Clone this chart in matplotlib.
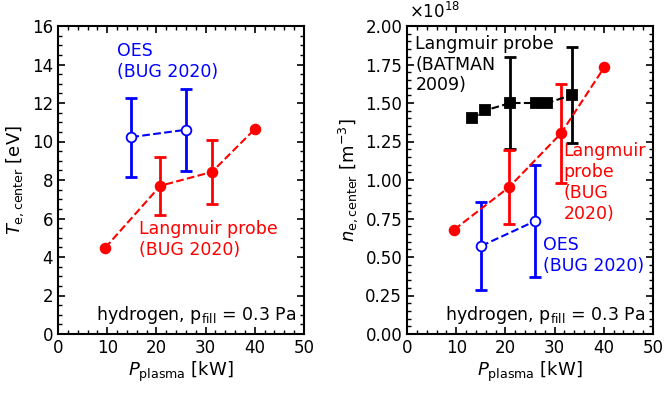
import numpy as np
import matplotlib
matplotlib.use("Agg")
import matplotlib.pyplot as plt
from matplotlib.ticker import MultipleLocator, FormatStrFormatter

# electron temperature, hydrogen 0.3 Pa
lp_p = [9.6, 20.8, 31.3, 40.1]
lp_te = [4.48, 7.70, 8.42, 10.67]
lp_te_err = [0, 1.52, 1.66, 0]
oes_p = [14.9, 26.0]
oes_te = [10.23, 10.61]
oes_te_err = [2.05, 2.13]

# electron density (1e18 m^-3)
lp_ne = [0.678, 0.955, 1.303, 1.732]
lp_ne_err = [0, 0.24, 0.32, 0]
oes_p2 = [15.1, 26.1]
oes_ne = [0.572, 0.734]
oes_ne_err = [0.285, 0.366]
bat_p = [13.2, 15.9, 21.0, 26.2, 28.5, 33.6]
bat_ne = [1.40, 1.452, 1.50, 1.50, 1.50, 1.553]
bat_ne_err = [0, 0, 0.297, 0, 0, 0.311]

plt.rcParams['font.size'] = 12
plt.rcParams['font.family'] = ['DejaVu Sans']

fig = plt.figure(figsize=(6.64, 3.96), dpi=100)
ax1 = fig.add_axes([58/664, 1 - 334/396, 246/664, 308/396])
ax2 = fig.add_axes([407/664, 1 - 334/396, 246/664, 308/396])

LBL = 12.5


def draw(ax, x, y, e, color, marker, mfc, ms):
    ax.plot(x, y, ls='--', color=color, lw=1.5, marker=marker, ms=ms,
            mfc=mfc, mec=color, mew=1.3, zorder=3)
    e = np.array(e)
    m = e > 0
    # only points with a given error get a bar
    ax.errorbar(np.array(x)[m], np.array(y)[m], yerr=e[m], fmt='none',
                ecolor=color, elinewidth=2, capsize=4, capthick=2, zorder=2)


draw(ax1, lp_p, lp_te, lp_te_err, 'red', 'o', 'red', 7)
draw(ax1, oes_p, oes_te, oes_te_err, 'blue', 'o', 'white', 7)
ax1.set_xlim(0, 50)
ax1.set_ylim(0, 16)
ax1.yaxis.set_major_locator(MultipleLocator(2))
ax1.yaxis.set_minor_locator(MultipleLocator(0.5))
ax1.set_ylabel(r'$T_\mathrm{e,center}$ [eV]', fontsize=13)
ax1.text(12.0, 14.15, 'OES\n(BUG 2020)', color='blue', fontsize=LBL,
         va='center')
ax1.text(16.4, 4.9, 'Langmuir probe\n(BUG 2020)', color='red', fontsize=LBL,
         va='center')

draw(ax2, bat_p, bat_ne, bat_ne_err, 'black', 's', 'black', 7)
draw(ax2, lp_p, lp_ne, lp_ne_err, 'red', 'o', 'red', 7)
draw(ax2, oes_p2, oes_ne, oes_ne_err, 'blue', 'o', 'white', 7)
ax2.set_xlim(0, 50)
ax2.set_ylim(0, 2)
ax2.yaxis.set_major_locator(MultipleLocator(0.25))
ax2.yaxis.set_minor_locator(MultipleLocator(0.05))
ax2.yaxis.set_major_formatter(FormatStrFormatter('%.2f'))
ax2.set_ylabel(r'$n_\mathrm{e,center}$ [m$^{-3}$]', fontsize=13)
ax2.text(0.01, 1.012, r'$\times$10$^{18}$', transform=ax2.transAxes,
         fontsize=12, va='bottom')
ax2.text(1.7, 1.75, 'Langmuir probe\n(BATMAN\n2009)', color='black',
         fontsize=LBL, va='center')
ax2.text(31.8, 0.985, 'Langmuir\nprobe\n(BUG\n2020)', color='red',
         fontsize=LBL, va='center')
ax2.text(27.6, 0.51, 'OES\n(BUG 2020)', color='blue', fontsize=LBL,
         va='center')

for ax in (ax1, ax2):
    ax.xaxis.set_major_locator(MultipleLocator(10))
    ax.xaxis.set_minor_locator(MultipleLocator(2))
    ax.tick_params(which='both', direction='in', top=True, right=True)
    ax.tick_params(which='major', length=5, width=1.2)
    ax.tick_params(which='minor', length=3, width=1)
    for s in ax.spines.values():
        s.set_linewidth(1.5)
    ax.set_xlabel(r'$P_\mathrm{plasma}$ [kW]', fontsize=13, labelpad=2)
    ax.text(0.97, 0.025, r'hydrogen, p$_\mathrm{fill}$ = 0.3 Pa',
            transform=ax.transAxes, ha='right', va='bottom', fontsize=LBL)

fig.savefig('out.png', dpi=100)
